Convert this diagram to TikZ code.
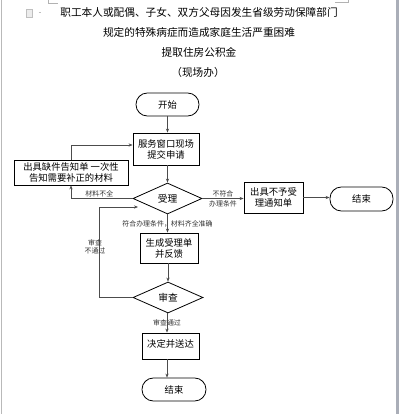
\documentclass[tikz,border=0pt]{standalone}
\usepackage{fontspec}
\newfontfamily\cjk{Noto Sans CJK SC}
\usetikzlibrary{arrows.meta,shapes.geometric,shadows,calc}
\begin{document}
\begin{tikzpicture}[x=0.75pt,y=-0.75pt,
  sz/.style 2 args={minimum width=#1*0.75pt, minimum height=#2*0.75pt},
  box/.style={draw=black, line width=0.6pt, fill=white, align=center, inner sep=0pt,
    font=\cjk\fontsize{7}{8.3}\selectfont,
    drop shadow={shadow xshift=0.9pt, shadow yshift=-0.9pt, fill=black!35, opacity=1}},
  term/.style={draw=black, line width=0.6pt, fill=white, rounded corners=8.5pt, inner sep=0pt,
    font=\cjk\fontsize{7}{8.3}\selectfont},
  dia/.style={draw=black, line width=0.6pt, fill=white, diamond, inner sep=0pt,
    font=\cjk\fontsize{7.3}{8.3}\selectfont},
  lab/.style={font=\cjk\fontsize{5.2}{6.4}\selectfont, inner sep=1pt, align=center, text=black!80},
  ttl/.style={font=\cjk\fontsize{8.0}{9}\selectfont, inner sep=0pt},
  arr/.style={draw=black!70, line width=0.5pt, -{Stealth[length=3pt,width=2.4pt]}}]
\useasboundingbox (0,0) rectangle (400,414);
\fill[white] (0,0) rectangle (400,414);
% page frame
\draw[gray!55, line width=1.1pt] (1.5,0) -- (1.5,414);
\draw[color={rgb,255:red,170;green,174;blue,184}, line width=1.9pt] (397.7,0) -- (397.7,414);
\draw[gray!60, line width=0.4pt] (48,0) -- (48,3) -- (58,3);
\draw[gray!60, line width=0.4pt] (335,2) -- (348,2) -- (348,0);
\draw[gray!50, fill=gray!15, line width=0.4pt] (26,9) rectangle (32,17);
\draw[gray!50, line width=0.4pt] (38.5,12.5) -- (40.5,12.5);
% titles
\node[ttl] (t1) at (199,12) {职工本人或配偶、子女、双方父母因发生省级劳动保障部门};
\node[ttl] (t2) at (199,32) {规定的特殊病症而造成家庭生活严重困难};
\node[ttl] (t3) at (199,52) {提取住房公积金};
\node[ttl] (t4) at (198,72) {（现场办）};
% nodes
\node[term, sz={63}{23}] (start) at (167.5,104.5) {开始};
\node[box, sz={66}{32}] (apply) at (166,149) {服务窗口现场\\提交申请};
\node[box, sz={114}{25}] (notice) at (71,172.5) {出具缺件告知单 一次性\\告知需要补正的材料};
\node[dia, sz={69}{31}] (accept) at (167.5,198.5) {受理};
\node[box, sz={59}{31}] (reject) at (273.5,197.5) {出具不予受\\理通知单};
\node[term, sz={63}{24}] (end1) at (361.5,199) {结束};
\node[box, sz={58}{30}] (gen) at (169,248) {生成受理单\\并反馈};
\node[dia, sz={70}{31}] (review) at (168,297.5) {审查};
\node[box, sz={57}{26}] (decide) at (170.5,346) {\raisebox{3pt}{决定并送达}};
\node[term, sz={64}{23}] (end2) at (174,389.5) {结束};
\coordinate (loopcorner) at (99,207);
\coordinate (loopend) at (138,207);
% connectors
\draw[arr] (start.south) -- (start.south |- apply.north);
\draw[arr] (notice.north) |- ($(apply.west)+(0,-4)$);
\draw[arr] (accept.north |- apply.south) -- (accept.north);
\draw[arr] (accept.west) -| node[lab, pos=0.27, above] {材料不全} (notice.south);
\draw[arr] (accept.east) -- node[lab, above] {不符合} node[lab, below] {办理条件} (accept.east -| reject.west);
\draw[arr] (reject.east) -- (reject.east -| end1.west);
\draw[arr] (accept.south) -- node[lab] {符合办理条件，材料齐全准确} (accept.south |- gen.north);
\draw[arr] (gen.south -| review.north) -- (review.north);
\draw[arr] (review.west) -| (loopcorner) -- (loopend);
\node[lab] (fail) at (95,247) {审查\\不通过};
\draw[arr] ([xshift=-0.75pt]review.south) -- node[lab] {审查通过} ([xshift=-0.75pt]review.south |- decide.north);
\draw[arr] ([xshift=-2.6pt]decide.south) -- ([xshift=-2.6pt]decide.south |- end2.north);
\end{tikzpicture}
\end{document}
